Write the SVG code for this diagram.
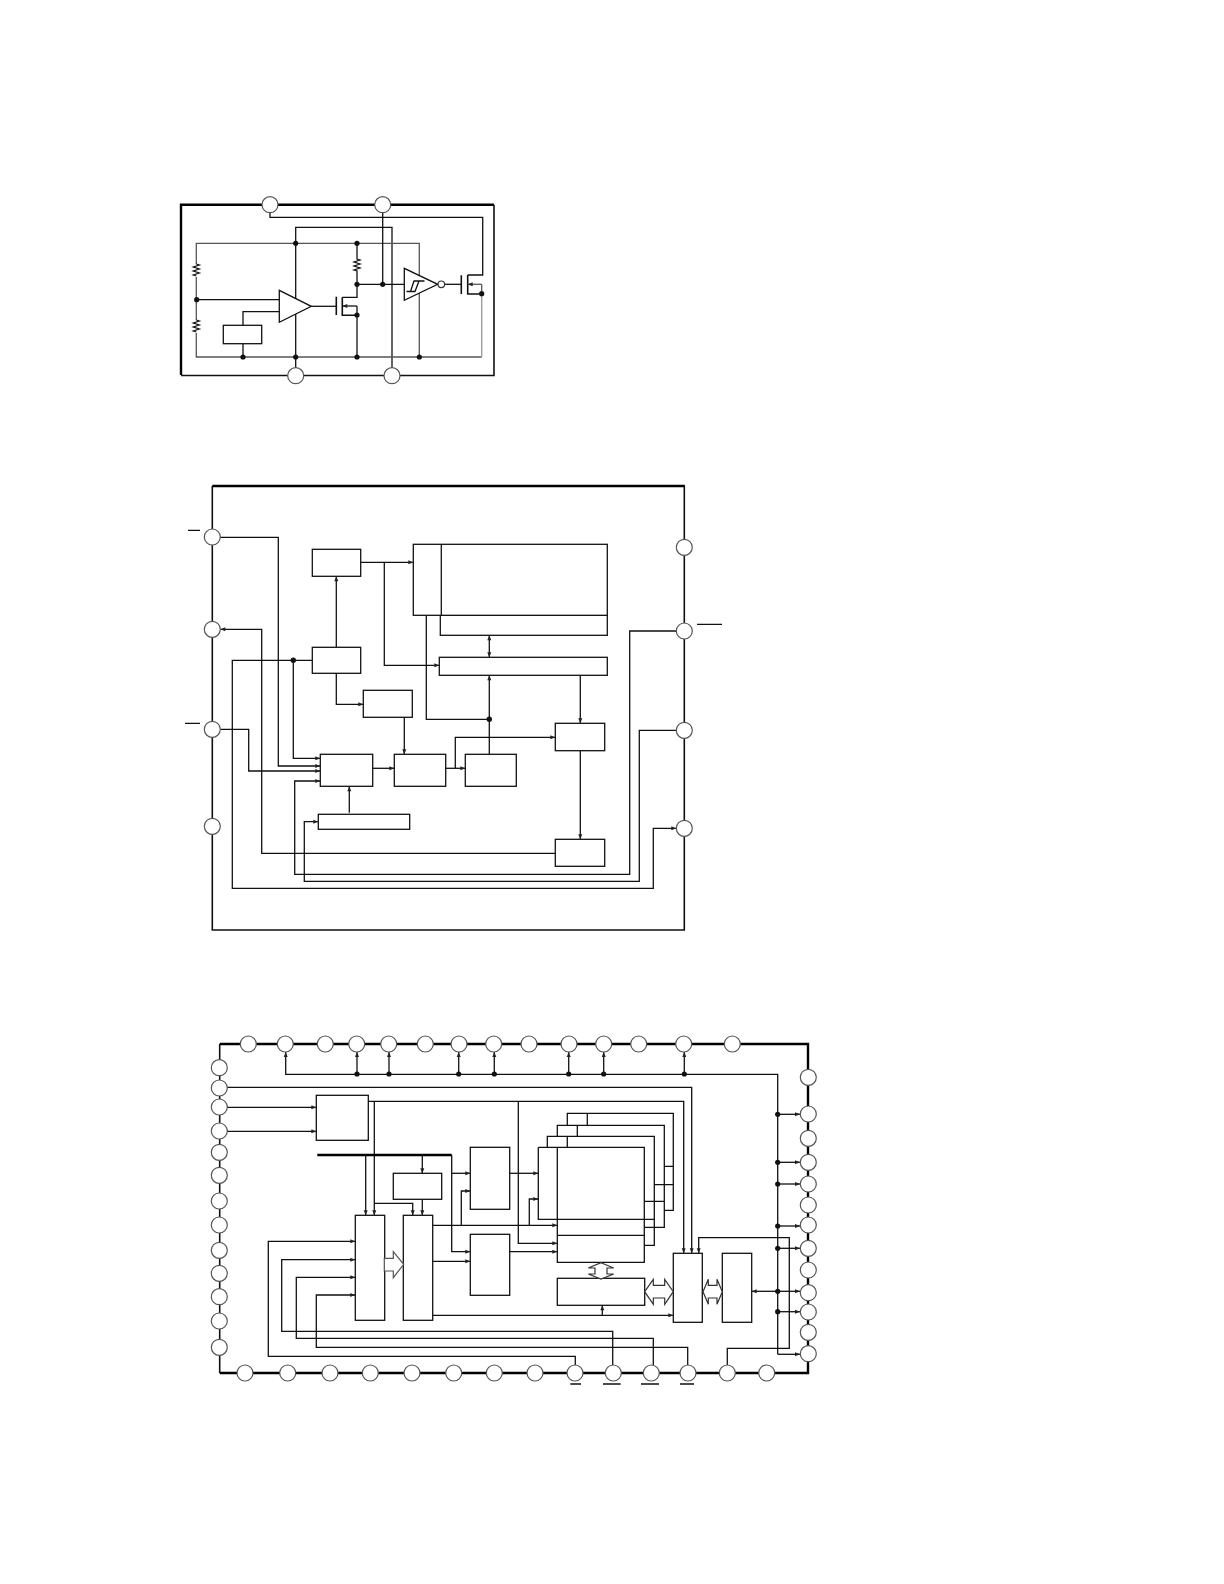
<svg xmlns="http://www.w3.org/2000/svg" width="1224" height="1584" viewBox="0 0 1224 1584">
<style>
.w{fill:none;stroke:#111;stroke-width:1.3;stroke-linejoin:miter}
.a{marker-end:url(#ah)}
.g{fill:none;stroke:#555;stroke-width:1.3}
.l{fill:none;stroke:#999;stroke-width:1.3}
.t{fill:none;stroke:#000;stroke-width:2.4}
.m{fill:none;stroke:#111;stroke-width:1.6}
.b{fill:#fff;stroke:#111;stroke-width:1.3}
.p{fill:#fff;stroke:#555;stroke-width:1.2}
.h{fill:#fff;stroke:#333;stroke-width:1.2}
.d{fill:#111;stroke:none}
</style>
<defs>
<marker id="ah" markerUnits="userSpaceOnUse" markerWidth="6" markerHeight="5" refX="6" refY="2.5" orient="auto"><path d="M1 .5L6 2.5L1 4.5z" fill="#222"/></marker>
<marker id="as" markerUnits="userSpaceOnUse" markerWidth="6" markerHeight="5" refX="0" refY="2.5" orient="auto"><path d="M5 .5L0 2.5L5 4.5z" fill="#222"/></marker>
</defs>

<g id="frames">
<path class="t" d="M181 375V204.7H494"/><path class="m" d="M494 204.7V375.5H181"/>
<path class="t" d="M212.3 486H684.9"/><path class="m" d="M212.3 486V930H684.3V486"/>
<path class="t" d="M219.7 1044H808V1373H219.7"/><path class="m" d="M219.7 1044V1373"/>
</g>

<g id="connectors">
<!-- diagram 1 -->
<path class="w" d="M270 212V217.3H482.7V275H467.7"/>
<path class="w" d="M295.7 368V227.3H392V368"/>
<path class="g" d="M295.7 243.3H196.3V264M196.3 277V320M196.3 333V357H481.7"/>
<path class="w" d="M196.3 299.7H279.3"/>
<path class="g" d="M295.7 243.3H419.3V357"/>
<path class="l" d="M481.7 357V293.7"/>
<path class="w" d="M196.3 264l3 1-6 2 6 2-6 2 6 2-6 2 3 1M196.3 320l3 1-6 2 6 2-6 2 6 2-6 2 3 1"/>
<path class="w" d="M357 243.3V259l3 1-6 2 6 2-6 2 6 2-6 2 3 1V297.3H342.3"/>
<path class="w" d="M357 306V357"/>
<path class="w" d="M357 284.3H404.3"/>
<path class="w" d="M382.7 212V284.3"/>
<path class="w" d="M243 325V311.7H279.3M243 343.7V357"/>
<path class="w" d="M311.3 306.3H336.3"/>
<path class="m" d="M336.3 296.7V315M342.3 297.3V315.3H357"/>
<path class="w a" d="M357 306H342.3"/>
<path class="w" d="M444.7 284.3H461.3"/>
<path class="m" d="M461.3 275.3V294M467.7 275V294H481.7"/>
<path class="g" d="M481.7 293.7V284.3"/>
<path class="g a" d="M481.7 284.3H467.7"/>
<!-- diagram 2 -->
<path class="w a" d="M220 537.3H278.3V766H320.3"/>
<path class="w a" d="M555.3 853.3H261.7V629.3H220.3"/>
<path class="w a" d="M312.3 660.3H232.3V888.3H653.3V828.3H676.3"/>
<path class="w a" d="M293.3 660.3V758.3H320.3"/>
<path class="w a" d="M220 729.3H248.7V771H320.3"/>
<path class="w a" d="M676.3 631H629.7V874.3H294.7V781H320.3"/>
<path class="w a" d="M676.3 730.3H639.3V881.3H304.3V821.7H318.3"/>
<path class="w a" d="M336.3 647.3V576.3"/>
<path class="w a" d="M336.3 673.3V704.3H363.3"/>
<path class="w a" d="M404.3 717.3V754.3"/>
<path class="w a" d="M372.7 768.3H394.3"/>
<path class="w a" d="M445.7 768.3H465.3"/>
<path class="w a" d="M455.3 768.3V737.3H555.3"/>
<path class="w a" d="M580.3 750.7V839.3"/>
<path class="w a" d="M580.3 675.3V723.3"/>
<path class="w a" d="M489.3 754.3V675.3"/>
<path class="w" d="M426.3 615.3V719.3H489.3"/>
<path class="w a" d="M360.7 562.3H413.3"/>
<path class="w a" d="M384.3 562.3V665.3H439.3"/>
<path class="w a" d="M349.3 812.7V786.3"/>
<path class="w a" style="marker-start:url(#as)" d="M489.3 635.3V657.3"/>
<!-- diagram 3 -->
<path class="w a" d="M777.7 1354.3V1074.3H285.7V1052"/>
<path class="w a" d="M357 1074.3V1052"/><path class="w a" d="M389 1074.3V1052"/><path class="w a" d="M458.7 1074.3V1052"/><path class="w a" d="M494.3 1074.3V1052"/><path class="w a" d="M568.7 1074.3V1052"/><path class="w a" d="M603.7 1074.3V1052"/><path class="w a" d="M684.3 1074.3V1052"/>
<path class="w a" d="M777.7 1114.3H800"/><path class="w a" d="M777.7 1162.3H800"/><path class="w a" d="M777.7 1184H800"/><path class="w a" d="M777.7 1226H800"/><path class="w a" d="M777.7 1248.3H800"/><path class="w a" d="M777.7 1291.3H800"/><path class="w a" d="M777.7 1311.7H800"/><path class="w a" d="M777.7 1354.3H800"/>
<path class="w a" d="M777.7 1291.3H751.7"/>
<path class="w a" d="M227 1087.3H691.7V1253.3"/>
<path class="w a" d="M227 1107.3H316.3"/><path class="w a" d="M227 1131.3H316.3"/>
<path class="w a" d="M368.3 1101.3H683.7V1253.3"/>
<path class="w a" d="M374.3 1101.3V1215.3"/>
<path class="w a" d="M374.3 1203.3H412.7V1215.3"/>
<path class="w a" d="M518.3 1101.3V1243.3H557.3"/>
<path class="t" d="M317.3 1155H451.7"/>
<path class="w a" d="M451.7 1155V1251.7H470.3"/>
<path class="w a" d="M451.7 1173.3H470.3"/>
<path class="w a" d="M365.7 1155V1215.3"/>
<path class="w a" d="M422.3 1155V1173.3"/>
<path class="w a" d="M422.3 1199.3V1215.3"/>
<path class="w a" d="M575.3 1365V1356.3H268.3V1241.3H355.3"/>
<path class="w a" d="M612.7 1365V1331.3H281.7V1259.7H355.3"/>
<path class="w a" d="M653.3 1365V1338.3H296.3V1277.3H355.3"/>
<path class="w a" d="M687.7 1365V1347.3H316.3V1295H355.3"/>
<path class="w a" d="M432.7 1225.3H557.3"/>
<path class="w a" d="M461.3 1225.3V1191H470.3"/>
<path class="w a" d="M529.3 1225.3V1199H538.3"/>
<path class="w a" d="M432.7 1261.3H470.3"/>
<path class="w a" d="M432.7 1315.3H673.3"/>
<path class="w a" d="M602.3 1315.3V1305.3"/>
<path class="w a" d="M509.7 1173.3H538.3"/>
<path class="w a" d="M509.7 1251.7H557.3"/>
<path class="w a" d="M727.3 1365V1348.3H789.3V1237.7H698.7V1253.3"/>
</g>

<g id="overbars">
<path class="w" d="M188 530.3H200M185 723.3H200M697 624.3H722M570.3 1384H581M603 1384H620.7M641 1384H659M680 1384H694"/>
</g>

<g id="junctions" class="d">
<circle cx="295.7" cy="243.3" r="2.6"/><circle cx="357" cy="243.3" r="2.6"/><circle cx="357" cy="284.3" r="2.6"/><circle cx="382.7" cy="284.3" r="2.6"/><circle cx="481.7" cy="293.7" r="2.6"/><circle cx="196.7" cy="299.7" r="2.6"/><circle cx="357" cy="315" r="2.6"/><circle cx="243" cy="357" r="2.6"/><circle cx="295.7" cy="357" r="2.6"/><circle cx="357" cy="357" r="2.6"/><circle cx="419.3" cy="357" r="2.6"/>
<circle cx="293.3" cy="660.3" r="2.7"/><circle cx="489.3" cy="719.3" r="2.7"/>
<circle cx="357" cy="1074" r="2.6"/><circle cx="389" cy="1074" r="2.6"/><circle cx="458.7" cy="1074" r="2.6"/><circle cx="494.3" cy="1074" r="2.6"/><circle cx="568.7" cy="1074" r="2.6"/><circle cx="603.7" cy="1074" r="2.6"/><circle cx="684.3" cy="1074" r="2.6"/>
<circle cx="777.7" cy="1114.3" r="2.6"/><circle cx="777.7" cy="1162.3" r="2.6"/><circle cx="777.7" cy="1184" r="2.6"/><circle cx="777.7" cy="1226" r="2.6"/><circle cx="777.7" cy="1248.3" r="2.6"/><circle cx="777.7" cy="1291.3" r="2.6"/><circle cx="777.7" cy="1311.7" r="2.6"/>
</g>

<g id="regulator-parts">
<g id="comparator"><path class="b" d="M279.3 290.3V322.3L311.3 306.3Z"/></g>
<g id="reference"><rect class="b" x="223.3" y="325.3" width="38.4" height="18.4"/></g>
<g id="schmitt"><path class="b" d="M404.3 268.3V300.3L437.7 284.3Z"/><path class="w" d="M406.5 291.5H415L419 281H424.5M410.5 291.5L414 281H419"/><circle class="h" cx="441.3" cy="284.3" r="3.3"/></g>
</g>

<g id="block-2">
<rect id="b2a" class="b" x="312.3" y="549.3" width="48.4" height="27"/>
<rect id="b2b" class="b" x="312.3" y="647.3" width="48.4" height="26"/>
<rect id="b2c" class="b" x="363.3" y="690.3" width="49" height="27"/>
<rect id="b2e" class="b" x="320.3" y="754.3" width="52.4" height="32"/>
<rect id="b2d" class="b" x="394.3" y="754.3" width="51.4" height="32"/>
<rect id="b2f" class="b" x="465.3" y="754.3" width="51" height="32"/>
<rect id="b2g" class="b" x="555.3" y="723.3" width="49.4" height="27.4"/>
<rect id="b2h" class="b" x="555.3" y="839.3" width="49.4" height="27"/>
<rect id="b2i" class="b" x="439.3" y="657.3" width="168" height="18"/>
<rect id="b2low" class="b" x="440.3" y="615.3" width="167" height="20"/>
<rect id="b2m" class="b" x="413.3" y="544.3" width="194" height="71"/>
<path class="w" d="M441.3 544.3V615.3"/>
<rect id="b2j" class="b" x="318.3" y="814.3" width="91.4" height="15"/>
</g>

<g id="block-3">
<rect id="b3l" class="b" x="316.3" y="1095.3" width="52" height="45"/>
<rect id="b3n" class="b" x="393.3" y="1173.3" width="48.4" height="26"/>
<rect id="b3m" class="b" x="355.3" y="1215.3" width="29.4" height="105"/>
<rect id="b3p" class="b" x="403.3" y="1215.3" width="29.4" height="105"/>
<rect id="b3q" class="b" x="470.3" y="1147.3" width="39.4" height="62"/>
<rect id="b3r" class="b" x="470.3" y="1234.3" width="39.4" height="61"/>
<g id="b3stack">
<path class="w" d="M567.3 1125.3V1113.3H673.3V1210.3H664.3M587.3 1113.3V1125.3M664.3 1166.3H673.3M654.3 1184.7H673.3"/>
<path class="w" d="M557.3 1136.3V1125.3H664.3V1227.3H644.3M577.3 1125.3V1136.3M644.3 1201.3H664.3"/>
<path class="w" d="M547.3 1147.3V1136.3H654.3V1245.3H644.3M567.3 1136.3V1147.3"/>
<path class="w" d="M538.3 1147.3H644.3V1262.3H557.3V1147.3M538.3 1147.3V1219.3H654.3M557.3 1235.3H644.3"/>
</g>
<rect id="b3s" class="b" x="557.3" y="1278.3" width="87.4" height="27"/>
<rect id="b3k" class="b" x="673.3" y="1253.3" width="29" height="69"/>
<rect id="b3t" class="b" x="722.3" y="1253.3" width="29.4" height="69"/>
<path class="p" d="M384.3 1258.3H393.3V1251.7L403.7 1264.3L393.3 1277.7V1271H384.3Z"/>
<path class="h" d="M601 1262.7L613.7 1268H607V1274H613.7L601 1279L588.3 1274H595V1268H588.3Z"/>
<path class="h" d="M644.7 1291.7L653.3 1279.3V1285.3H664.7V1279.3L673.3 1291.7L664.7 1304.3V1298H653.3V1304.3Z"/>
<path class="h" d="M703 1291.7L708.3 1279.3V1285.3H717V1279.3L722.3 1291.7L717 1304.3V1298H708.3V1304.3Z"/>
</g>

<g id="pins" class="p">
<circle cx="270" cy="204.7" r="8"/><circle cx="382.7" cy="204.7" r="8"/><circle cx="295.7" cy="375.7" r="8"/><circle cx="392" cy="375.7" r="8"/>
<circle cx="212.3" cy="537" r="8"/><circle cx="212.3" cy="629.3" r="8"/><circle cx="212.3" cy="729.3" r="8"/><circle cx="212.3" cy="826.3" r="8"/>
<circle cx="684.3" cy="547.3" r="8"/><circle cx="684.3" cy="631" r="8"/><circle cx="684.3" cy="730.3" r="8"/><circle cx="684.3" cy="828.3" r="8"/>
<circle cx="248.3" cy="1044" r="8"/><circle cx="285.3" cy="1044" r="8"/><circle cx="325.3" cy="1044" r="8"/><circle cx="356.7" cy="1044" r="8"/><circle cx="388.7" cy="1044" r="8"/><circle cx="425.3" cy="1044" r="8"/><circle cx="459" cy="1044" r="8"/><circle cx="493.7" cy="1044" r="8"/><circle cx="529" cy="1044" r="8"/><circle cx="569" cy="1044" r="8"/><circle cx="603.7" cy="1044" r="8"/><circle cx="638.7" cy="1044" r="8"/><circle cx="683.7" cy="1044" r="8"/><circle cx="732.3" cy="1044" r="8"/>
<circle cx="219.3" cy="1067.7" r="8"/><circle cx="219.3" cy="1088" r="8"/><circle cx="219.3" cy="1107" r="8"/><circle cx="219.3" cy="1131" r="8"/><circle cx="219.3" cy="1152.3" r="8"/><circle cx="219.3" cy="1175.3" r="8"/><circle cx="219.3" cy="1201" r="8"/><circle cx="219.3" cy="1225" r="8"/><circle cx="219.3" cy="1250.3" r="8"/><circle cx="219.3" cy="1273.3" r="8"/><circle cx="219.3" cy="1296.7" r="8"/><circle cx="219.3" cy="1321" r="8"/><circle cx="219.3" cy="1347.3" r="8"/>
<circle cx="245" cy="1373" r="8"/><circle cx="287.7" cy="1373" r="8"/><circle cx="330" cy="1373" r="8"/><circle cx="370.3" cy="1373" r="8"/><circle cx="412" cy="1373" r="8"/><circle cx="453.7" cy="1373" r="8"/><circle cx="494.3" cy="1373" r="8"/><circle cx="535" cy="1373" r="8"/><circle cx="575" cy="1373" r="8"/><circle cx="613.3" cy="1373" r="8"/><circle cx="651.3" cy="1373" r="8"/><circle cx="688" cy="1373" r="8"/><circle cx="727.3" cy="1373" r="8"/><circle cx="766.7" cy="1373" r="8"/>
<circle cx="808.3" cy="1077.3" r="8"/><circle cx="808.3" cy="1114" r="8"/><circle cx="808.3" cy="1138.3" r="8"/><circle cx="808.3" cy="1162.3" r="8"/><circle cx="808.3" cy="1184" r="8"/><circle cx="808.3" cy="1205" r="8"/><circle cx="808.3" cy="1225" r="8"/><circle cx="808.3" cy="1248.3" r="8"/><circle cx="808.3" cy="1270" r="8"/><circle cx="808.3" cy="1292.7" r="8"/><circle cx="808.3" cy="1312" r="8"/><circle cx="808.3" cy="1332.3" r="8"/><circle cx="808.3" cy="1353.7" r="8"/>
</g>
</svg>
